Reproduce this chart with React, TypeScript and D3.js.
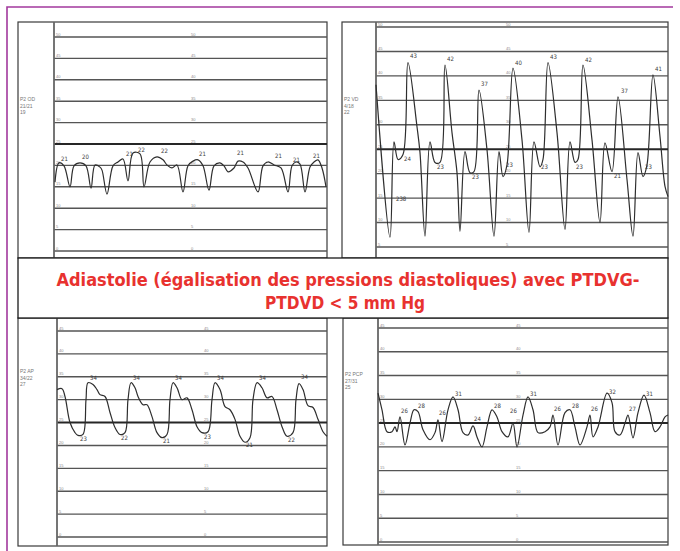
import * as d3 from 'd3';

type Pt = [number, number]; // [seconds, mmHg]
type Lbl = [number, number, string];

// pressure grids (mmHg), top to bottom
const gridOD = [50, 45, 40, 35, 30, 25, 20, 15, 10, 5, 0];
const gridVD = [50, 45, 40, 35, 30, 25, 20, 15, 10, 5];
const gridAP = [45, 40, 35, 30, 25, 20, 15, 10, 5, 0];
const gridPCP = [45, 40, 35, 30, 25, 20, 15, 10, 5, 0];

const traceOD: Pt[] = [
  [0.02, 16.1], [0.1, 20.6], [0.2, 19.9], [0.32, 15.0], [0.4, 19.9], [0.52, 20.6], [0.64, 19.9],
  [0.74, 14.7], [0.82, 20.1], [0.92, 19.6], [0.96, 18.9], [1.06, 13.3], [1.18, 19.9], [1.28, 20.8],
  [1.38, 21.5], [1.48, 16.4], [1.58, 22.9], [1.72, 22.7], [1.8, 15.0], [1.92, 20.8], [2.06, 22.0],
  [2.18, 21.3], [2.26, 20.1], [2.36, 19.4], [2.46, 20.1], [2.58, 13.8], [2.68, 19.9], [2.78, 21.0],
  [2.88, 21.3], [2.98, 19.9], [3.1, 14.2], [3.2, 19.9], [3.32, 20.6], [3.4, 19.9], [3.48, 18.5],
  [3.6, 19.4], [3.68, 21.0], [3.78, 20.8], [3.88, 19.4], [4.08, 13.8], [4.18, 19.9], [4.28, 20.8],
  [4.4, 20.1], [4.54, 19.4], [4.68, 13.8], [4.76, 19.9], [4.84, 20.8], [4.92, 20.3], [5.02, 13.8],
  [5.12, 19.6], [5.2, 20.8], [5.28, 21.3], [5.36, 19.4], [5.44, 15.0],
];

const traceVD: Pt[] = [
  [0, 38.2], [0.28, 7.0], [0.36, 26.5], [0.44, 22.9], [0.54, 23.9], [0.64, 42.7], [0.82, 29.6],
  [0.88, 24.3], [0.98, 7.2], [1.08, 26.5], [1.18, 22.3], [1.28, 22.3], [1.38, 42.2], [1.52, 28.4],
  [1.62, 20.2], [1.68, 8.2], [1.78, 24.5], [1.88, 20.2], [1.96, 20.4], [2.06, 37.1], [2.22, 24.9],
  [2.36, 7.2], [2.46, 24.5], [2.54, 19.4], [2.62, 21.8], [2.74, 41.6], [2.92, 26.9], [3.06, 8.0],
  [3.16, 26.5], [3.28, 21.4], [3.34, 22.9], [3.44, 42.7], [3.62, 28.4], [3.78, 8.6], [3.88, 26.5],
  [3.98, 22.3], [4.04, 22.9], [4.14, 42.2], [4.32, 26.9], [4.48, 10.0], [4.58, 26.3], [4.72, 20.4],
  [4.84, 35.7], [5.02, 18.8], [5.14, 7.2], [5.24, 24.3], [5.34, 19.4], [5.42, 21.8], [5.54, 40.2],
  [5.68, 27.6], [5.78, 17.4], [5.84, 15.3],
];

const traceAP: Pt[] = [
  [0, 32.2], [0.1, 32.4], [0.16, 30.7], [0.26, 25.0], [0.36, 22.8], [0.42, 22.2], [0.52, 22.4],
  [0.58, 30.0], [0.62, 33.7], [0.72, 33.3], [0.8, 32.2], [0.86, 31.1], [0.96, 30.7], [1.06, 27.2],
  [1.16, 23.9], [1.26, 22.4], [1.36, 22.8], [1.42, 30.0], [1.48, 33.7], [1.56, 32.6], [1.62, 30.7],
  [1.72, 28.9], [1.8, 28.9], [1.9, 26.3], [2.0, 22.8], [2.1, 21.7], [2.2, 22.4], [2.26, 30.0],
  [2.32, 33.7], [2.4, 32.6], [2.5, 30.0], [2.6, 30.4], [2.7, 27.8], [2.8, 24.1], [2.9, 22.8],
  [3.02, 23.0], [3.1, 30.0], [3.16, 33.7], [3.26, 32.2], [3.36, 28.5], [3.46, 27.8], [3.56, 25.7],
  [3.66, 22.0], [3.76, 20.7], [3.86, 21.7], [3.92, 30.0], [4.0, 33.7], [4.1, 32.6], [4.2, 30.4],
  [4.3, 30.7], [4.4, 27.8], [4.5, 24.1], [4.6, 22.0], [4.72, 22.8], [4.78, 30.0], [4.84, 33.5],
  [4.92, 32.2], [5.02, 28.7], [5.12, 28.3], [5.22, 25.7], [5.32, 23.0], [5.4, 22.0],
];

const tracePCP: Pt[] = [
  [0, 31.3], [0.08, 27.8], [0.18, 23.2], [0.28, 23.2], [0.34, 24.2], [0.38, 23.2], [0.44, 26.3],
  [0.54, 20.4], [0.64, 25.0], [0.72, 27.8], [0.8, 27.4], [0.9, 23.6], [1.04, 21.5], [1.14, 23.0],
  [1.2, 25.7], [1.28, 21.1], [1.4, 27.8], [1.5, 30.5], [1.6, 27.8], [1.7, 23.0], [1.8, 22.5],
  [1.9, 24.4], [1.98, 22.1], [2.08, 20.0], [2.18, 24.2], [2.28, 27.8], [2.38, 26.3], [2.48, 23.2],
  [2.6, 22.1], [2.7, 25.0], [2.78, 20.0], [2.9, 26.7], [3.0, 30.5], [3.1, 27.8], [3.2, 23.0],
  [3.34, 23.2], [3.44, 24.2], [3.5, 26.7], [3.6, 20.4], [3.74, 27.2], [3.84, 27.8], [3.94, 24.2],
  [4.04, 20.4], [4.18, 24.2], [4.24, 26.7], [4.3, 22.1], [4.4, 24.2], [4.58, 31.3], [4.68, 29.3],
  [4.74, 23.2], [4.84, 22.5], [4.94, 25.0], [5.0, 26.7], [5.1, 21.9], [5.2, 27.2], [5.32, 30.9],
  [5.44, 27.2], [5.54, 23.2], [5.64, 24.2], [5.74, 26.3], [5.8, 26.7],
];

const labelsOD: Lbl[] = [
  [0.14, 21.0, '21'], [0.56, 21.5, '20'], [1.44, 22.3, '21'], [1.68, 23.2, '22'], [2.14, 23.0, '22'],
  [2.9, 22.2, '21'], [3.66, 22.4, '21'], [4.42, 21.8, '21'], [4.78, 20.8, '21'], [5.18, 21.8, '21'],
];
const labelsVD: Lbl[] = [
  [0.68, 43.6, '43'], [1.42, 43.0, '42'], [2.1, 37.9, '37'], [2.78, 42.2, '40'], [3.48, 43.4, '43'],
  [4.18, 42.8, '42'], [4.9, 36.4, '37'], [5.58, 41.0, '41'],
  [0.56, 22.6, '24'], [1.22, 21.0, '23'], [1.92, 19.0, '23'], [2.6, 21.4, '23'], [3.3, 21.0, '23'],
  [4.0, 21.0, '23'], [4.76, 19.2, '21'], [5.38, 21.0, '23'], [0.4, 14.4, '238'],
];
const labelsAP: Lbl[] = [
  [0.66, 34.4, '34'], [1.52, 34.4, '34'], [2.36, 34.4, '34'], [3.2, 34.4, '34'], [4.04, 34.4, '34'],
  [4.88, 34.6, '34'],
  [0.46, 20.9, '23'], [1.28, 21.2, '22'], [2.12, 20.5, '21'], [2.94, 21.3, '23'], [3.78, 19.6, '21'],
  [4.62, 20.8, '22'],
];
const labelsPCP: Lbl[] = [
  [0.46, 27.2, '26'], [0.8, 28.2, '28'], [1.22, 26.7, '26'], [1.54, 30.6, '31'], [1.92, 25.4, '24'],
  [2.32, 28.2, '28'], [2.64, 27.2, '26'], [3.04, 30.6, '31'], [3.52, 27.6, '26'], [3.88, 28.2, '28'],
  [4.26, 27.6, '26'], [4.62, 31.2, '32'], [5.02, 27.6, '27'], [5.36, 30.8, '31'],
];

const idOD = ['P2 OD', '21/21', '19'];
const idVD = ['P2 VD', '4/18', '22'];
const idAP = ['P2 AP', '34/22', '27'];
const idPCP = ['P2 PCP', '27/31', '25'];

const titleLines = ['Adiastolie (égalisation des pressions diastoliques) avec PTDVG-', 'PTDVD < 5 mm Hg'];

interface Spec {
  box: [number, number, number, number];
  axisX: number;
  centerX: number;
  gridTop: number;
  gridBottom: number;
  grid: number[];
  thick: number;
  duration: number;
  trace: Pt[];
  labels: Lbl[];
  id: string[];
  idY: number;
}

const panels: Spec[] = [
  { box: [18, 22, 309, 236], axisX: 54, centerX: 192, gridTop: 37, gridBottom: 251, grid: gridOD, thick: 25,
    duration: 5.46, trace: traceOD, labels: labelsOD, id: idOD, idY: 101 },
  { box: [342, 22, 326, 236], axisX: 376, centerX: 507, gridTop: 27, gridBottom: 247, grid: gridVD, thick: 25,
    duration: 5.84, trace: traceVD, labels: labelsVD, id: idVD, idY: 101 },
  { box: [18, 318, 309, 228], axisX: 57, centerX: 205, gridTop: 331, gridBottom: 537, grid: gridAP, thick: 25,
    duration: 5.4, trace: traceAP, labels: labelsAP, id: idAP, idY: 373 },
  { box: [343, 318, 325, 227], axisX: 378, centerX: 517, gridTop: 328, gridBottom: 542, grid: gridPCP, thick: 25,
    duration: 5.8, trace: tracePCP, labels: labelsPCP, id: idPCP, idY: 376 },
];

function Panel({ s }: { s: Spec }) {
  const [bx, by, bw, bh] = s.box;
  const right = bx + bw;
  const x = d3.scaleLinear().domain([0, s.duration]).range([s.axisX, right]);
  const y = d3
    .scaleLinear()
    .domain([s.grid[0], s.grid[s.grid.length - 1]])
    .range([s.gridTop, s.gridBottom]);
  const line = d3
    .line<Pt>()
    .x((d) => x(d[0]))
    .y((d) => y(d[1]))
    .curve(d3.curveCatmullRom.alpha(0.5));

  return (
    <g>
      <rect x={bx} y={by} width={bw} height={bh} fill="#fff" stroke="#3a3a3a" strokeWidth={1.2} />
      {s.grid.map((g) => (
        <g key={g}>
          <line x1={s.axisX} x2={right} y1={y(g)} y2={y(g)} stroke={g === s.thick ? '#262626' : '#555'}
            strokeWidth={g === s.thick ? 2 : 1.4} />
          <text x={s.axisX + 2} y={y(g) - 1.5} fontSize={4} fill="#8a8a8a" fontFamily="Liberation Sans">{g}</text>
          <text x={s.centerX - 1} y={y(g) - 1.5} fontSize={4} fill="#8a8a8a" fontFamily="Liberation Sans">{g}</text>
        </g>
      ))}
      <line x1={s.axisX} x2={s.axisX} y1={by} y2={by + bh} stroke="#666" strokeWidth={1.8} />
      <path d={line(s.trace) ?? ''} fill="none" stroke="#2e2e2e" strokeWidth={1.2} strokeLinejoin="round" />
      {s.labels.map(([t, v, txt], i) => (
        <text key={i} x={x(t)} y={y(v)} fontSize={6} fill="#3a3a3a" fontFamily="Liberation Sans Narrow, DejaVu Sans Condensed, sans-serif">
          {txt}
        </text>
      ))}
      {s.id.map((t, i) => (
        <text key={t} x={bx + 2} y={s.idY + i * 6.5} fontSize={5} fill="#777" fontFamily="Liberation Sans">{t}</text>
      ))}
    </g>
  );
}

export default function App() {
  return (
    <svg width={680} height={551} viewBox="0 0 680 551" style={{ position: 'absolute', left: 0, top: 0 }}>
      <rect width={680} height={551} fill="#fff" />
      <path d="M7,551 V7 H673" fill="none" stroke="#a2399d" strokeWidth={1.6} />
      {panels.map((s, i) => (
        <Panel key={i} s={s} />
      ))}
      <rect x={18} y={258} width={650} height={60} fill="#fff" stroke="#1a1a1a" strokeWidth={1.3} />
      <text x={348} y={286} textAnchor="middle" fontSize={18} fontWeight="bold" fill="#e8322f"
        fontFamily="Liberation Sans Narrow, DejaVu Sans Condensed, sans-serif" textLength={583} lengthAdjust="spacingAndGlyphs">
        {titleLines[0]}
      </text>
      <text x={345} y={309} textAnchor="middle" fontSize={18} fontWeight="bold" fill="#e8322f"
        fontFamily="Liberation Sans Narrow, DejaVu Sans Condensed, sans-serif" textLength={160} lengthAdjust="spacingAndGlyphs">
        {titleLines[1]}
      </text>
    </svg>
  );
}
